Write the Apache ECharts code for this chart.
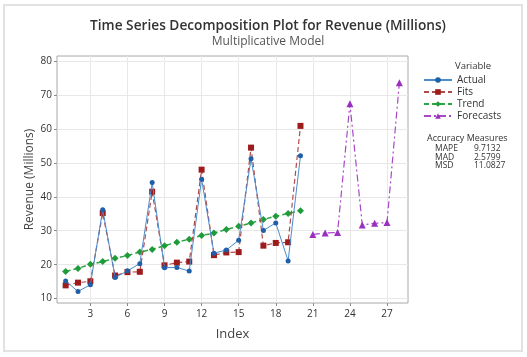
<!DOCTYPE html>
<html>
<head>
<meta charset="utf-8">
<script src="https://cdn.jsdelivr.net/npm/echarts@6/dist/echarts.min.js"></script>
<style>html,body{margin:0;padding:0;background:#fff;}#c{width:527px;height:357px;}</style>
</head>
<body>
<div id="c"></div>
<script>
const indexFit = [1,2,3,4,5,6,7,8,9,10,11,12,13,14,15,16,17,18,19,20];
const actual = [15.2,12.1,14.1,36.2,16.2,18.2,20.3,44.2,19.1,19.2,18.1,45.2,23.4,24.3,27.2,51.2,30.1,32.3,21.1,52.1];
const fits = [13.9,14.7,15.1,35.2,16.8,17.8,17.9,41.5,19.8,20.6,20.9,48.0,22.8,23.6,23.7,54.5,25.6,26.4,26.6,60.9];
const trend = [18.0,18.9,20.1,20.9,21.9,22.7,23.7,24.5,25.6,26.6,27.5,28.6,29.3,30.4,31.3,32.3,33.3,34.3,35.1,35.9];
const indexFc = [21,22,23,24,25,26,27,28];
const forecasts = [28.9,29.3,29.5,67.4,31.7,32.2,32.4,73.6];
const xTicks = [3,6,9,12,15,18,21,24,27];
const yTicks = [10,20,30,40,50,60,70,80];
const measureNames = ['MAPE','MAD','MSD'];
const measureValues = ['9.7132','2.5799','11.0827'];

const pair = (xs, ys) => xs.map((x, i) => [x, ys[i]]);
const FONT = '"Open Sans", "Noto Sans", sans-serif';

const chart = echarts.init(document.getElementById('c'));
const graphics = [
  {type:'rect', shape:{x:4, y:5, width:518, height:346}, style:{fill:'none', stroke:'#e2e2e2', lineWidth:2}, silent:true},
  {type:'text', left:455, top:61, style:{text:'Variable', font:'9.5px ' + FONT, fill:'#333'}},
  {type:'text', left:427, top:134, style:{text:'Accuracy Measures', font:'9px ' + FONT, fill:'#333'}}
];
measureNames.forEach((n, i) => {
  graphics.push({type:'text', left:435, top:144.5 + i*8.4, style:{text:n, font:'8.5px ' + FONT, fill:'#333'}});
  graphics.push({type:'text', left:474, top:144.5 + i*8.4, style:{text:measureValues[i], font:'8.5px ' + FONT, fill:'#333'}});
});

chart.setOption({
  animation: false,
  backgroundColor: '#fff',
  title: {
    text: 'Time Series Decomposition Plot for Revenue (Millions)',
    subtext: 'Multiplicative Model',
    left: 263, top: 14, textAlign: 'center', itemGap: 3,
    textStyle: {fontFamily: FONT, fontSize: 13.7, fontWeight: 600, color: '#333'},
    subtextStyle: {fontFamily: FONT, fontSize: 12, color: '#555'}
  },
  legend: {
    orient: 'vertical', left: 418, top: 70, itemWidth: 28, itemHeight: 7, itemGap: 2,
    textStyle: {fontFamily: FONT, fontSize: 10, lineHeight: 10, color: '#333'},
    data: ['Actual','Fits','Trend','Forecasts']
  },
  grid: {left: 57, top: 56, right: 119, bottom: 54, show: true, borderColor: '#a8a8a8', borderWidth: 1},
  xAxis: {
    type: 'value', min: 0.3, max: 28.7,
    name: 'Index', nameLocation: 'middle', nameGap: 25,
    nameTextStyle: {fontFamily: FONT, fontSize: 13, fontWeight: 500, color: '#444'},
    axisLine: {show: false},
    axisTick: {show: true, customValues: xTicks, length: 3, lineStyle: {color: '#888'}},
    axisLabel: {customValues: xTicks, fontFamily: FONT, fontSize: 10, color: '#333', margin: 6},
    splitLine: {show: true, lineStyle: {color: '#e8e8e8'}}
  },
  yAxis: {
    type: 'value', min: 8.7, max: 81.5,
    name: 'Revenue (Millions)', nameLocation: 'middle', nameGap: 21, nameMoveOverlap: false,
    nameTextStyle: {fontFamily: FONT, fontSize: 12, fontWeight: 500, color: '#444'},
    axisLine: {show: false},
    axisTick: {show: true, customValues: yTicks, length: 3, lineStyle: {color: '#888'}},
    axisLabel: {customValues: yTicks, fontFamily: FONT, fontSize: 10, color: '#333', margin: 5},
    splitLine: {show: true, lineStyle: {color: '#e8e8e8'}}
  },
  graphic: graphics,
  series: [
    {name: 'Actual', type: 'line', data: pair(indexFit, actual), symbol: 'circle', symbolSize: 5,
     itemStyle: {color: '#1f5ea8'}, lineStyle: {color: '#4a8ccc', width: 1}, z: 4},
    {name: 'Fits', type: 'line', data: pair(indexFit, fits), symbol: 'rect', symbolSize: 6,
     itemStyle: {color: '#9e1b1b'}, lineStyle: {color: '#b04a4a', width: 1.2, type: [5,3]}, z: 3},
    {name: 'Trend', type: 'line', data: pair(indexFit, trend), symbol: 'diamond', symbolSize: 7,
     itemStyle: {color: '#1e9b3a'}, lineStyle: {color: '#2aa640', width: 1.5, type: [5,3]}, z: 2},
    {name: 'Forecasts', type: 'line', data: pair(indexFc, forecasts), symbol: 'triangle', symbolSize: 7,
     itemStyle: {color: '#9a30c0'}, lineStyle: {color: '#a848c8', width: 1.2, type: [7,3,2,3]}, z: 2}
  ]
});
</script>
</body>
</html>
